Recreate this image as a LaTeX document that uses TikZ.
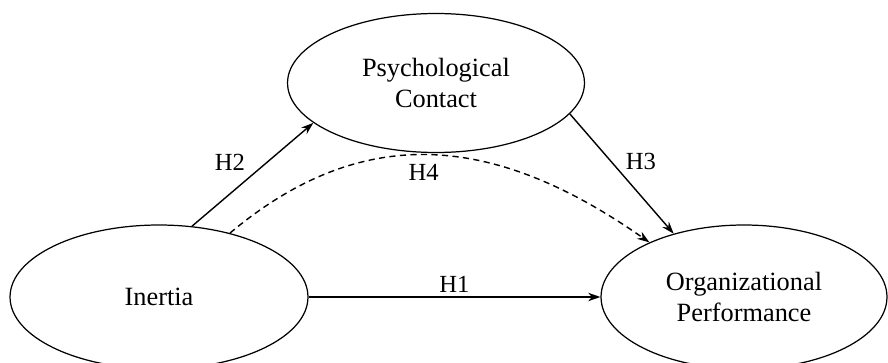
\documentclass[tikz,border=0pt]{standalone}
\usepackage{fontspec}
\setmainfont{Liberation Serif}
\usetikzlibrary{shapes.geometric}
\usetikzlibrary{arrows.meta}

\begin{document}
\begin{tikzpicture}[->,>={Stealth[length=7pt,width=4.8pt]},x=0.02cm,y=0.02cm,line width=0.8pt,font=\fontsize{15}{18}\selectfont]
\tikzstyle{v}=[ellipse,draw,inner sep=0pt,align=center,line width=0.7pt]
\tikzstyle{h}=[font=\fontsize{14}{17}\selectfont,inner sep=2pt]
\useasboundingbox (0,0) rectangle (888,362);
\node[v, minimum width=5.96cm, minimum height=2.88cm]	(I)	at (159,65)	{Inertia};
\node[v, minimum width=5.94cm, minimum height=2.78cm]	(P)	at (436,279)	{Psychological\\Contact};
\node[v, minimum width=5.72cm, minimum height=2.88cm]	(O)	at (744,65)	{Organizational\\Performance};
\path(I.east)	edge	node[h,above]		{H1}	(O.west)
	 (I.65)	edge	node[h,above left,xshift=-2pt]	{H2}	(P.198)
	 (P.-13)	edge	node[h,above right]	{H3}	(O.138)
	 (I.42)	edge[dash pattern=on 3.5pt off 2.5pt,out=40,in=145,looseness=1.1]	node[h,below,pos=0.47,yshift=-3pt]	{H4}	(O.150);
\end{tikzpicture}
\end{document}
